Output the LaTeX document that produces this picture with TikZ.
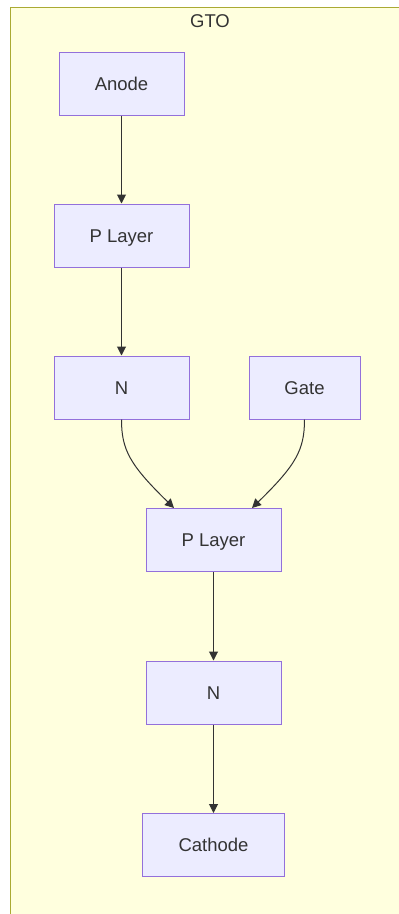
\documentclass[tikz,border=0pt]{standalone}
\usepackage{fontspec}
\setmainfont{Liberation Sans}
\usetikzlibrary{arrows.meta, positioning}
\definecolor{boxfill}{HTML}{ECECFF}
\definecolor{boxline}{HTML}{9370DB}
\definecolor{groupfill}{HTML}{FFFFDE}
\definecolor{groupline}{HTML}{AAAA33}
\definecolor{ink}{HTML}{333333}
\tikzstyle{layer} = [rectangle, minimum height=63pt, text height=17pt, text depth=3.7pt, text centered, draw=boxline, fill=boxfill, line width=1pt, text=ink, font=\fontsize{18.5}{22}\selectfont]
\tikzstyle{flow} = [draw=ink, line width=1pt, -{Triangle[length=9pt, width=9pt]}]

\begin{document}
\begin{tikzpicture}[x=1pt, y=1pt, node distance=152pt]
\useasboundingbox (0,0) rectangle (399,-914);
\draw [draw=groupline, fill=groupfill, line width=1pt] (10.5,-7.5) rectangle (410,-940);
\node (gto) [text=ink, font=\fontsize{18.5}{22}\selectfont] at (210,-21) {GTO};
\node (anode) [layer, minimum width=125pt] at (121.5,-83.5) {Anode};
\node (p1) [layer, minimum width=135pt, below of=anode] {P Layer};
\node (n1) [layer, minimum width=135pt, below of=p1] {N};
\node (gate) [layer, minimum width=111pt, right of=n1, xshift=31pt] {Gate};
\node (p2) [layer, minimum width=135pt, below of=n1, xshift=92pt, yshift=-0.5pt] {P Layer};
\node (n2) [layer, minimum width=135pt, below of=p2, yshift=-0.5pt] {N};
\node (cathode) [layer, minimum width=142pt, below of=n2, yshift=-0.5pt] {Cathode};
\draw [flow] (anode) -- (p1);
\draw [flow] (p1) -- (n1);
\draw [flow] (n1.south) .. controls (121.5,-450) and (130,-465) .. ([xshift=-39.5pt]p2.north);
\draw [flow] (gate.south) .. controls (304.5,-450) and (296,-465) .. ([xshift=38.5pt]p2.north);
\draw [flow] (p2) -- (n2);
\draw [flow] (n2) -- (cathode);
\end{tikzpicture}
\end{document}
